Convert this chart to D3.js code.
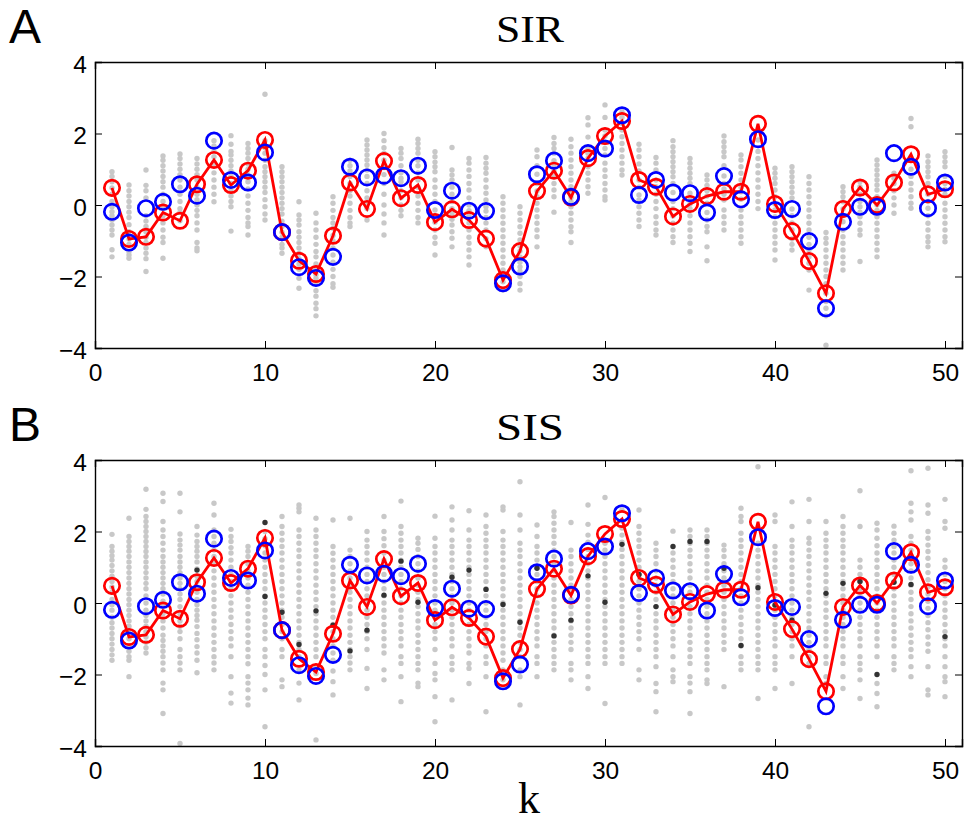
<!DOCTYPE html>
<html><head><meta charset="utf-8">
<script src="https://cdn.jsdelivr.net/npm/d3@7"></script>
<style>
body{margin:0;background:#fff;}
svg{display:block;}
.tick text{font-family:"Liberation Sans",Arial,sans-serif;font-size:24.5px;fill:#000;}
</style></head>
<body><svg id="chart" width="964" height="825"></svg>
<script>
const kValues = d3.range(1, 51);
const xTicks = [0, 10, 20, 30, 40, 50];
const yTicks = [-4, -2, 0, 2, 4];
const panelLabels = ["A", "B"];
const panelTitles = ["SIR", "SIS"];
const xLabel = "k";

const redVals = [0.48,-0.95,-0.89,-0.21,-0.44,0.58,1.26,0.56,0.96,1.82,
  -0.76,-1.56,-1.93,-0.86,0.63,-0.11,1.23,0.19,0.56,-0.48,
  -0.12,-0.42,-0.94,-2.10,-1.29,0.39,0.96,0.21,1.31,1.93,
  2.35,0.70,0.51,-0.32,0.03,0.25,0.37,0.37,2.27,0.03,
  -0.73,-1.57,-2.47,-0.11,0.49,0.0,0.63,1.42,0.30,0.44];
const blueVals = [-0.19,-1.05,-0.09,0.09,0.58,0.26,1.80,0.70,0.63,1.47,
  -0.76,-1.74,-2.04,-1.45,1.07,0.77,0.82,0.75,1.10,-0.14,
  0.40,-0.16,-0.17,-2.19,-1.72,0.86,1.24,0.23,1.45,1.58,
  2.51,0.28,0.70,0.35,0.33,-0.21,0.81,0.16,1.84,-0.14,
  -0.11,-1.01,-2.89,-0.47,-0.05,-0.05,1.45,1.07,-0.09,0.63];

const sirGrey = [
 [0.93,0.8,0.65,0.48,0.3,0.1,-0.05,-0.19,-0.3,-0.42,-0.56,-0.7,-0.84,-1.25,-1.45],
 [0.56,0.4,0.25,0.1,-0.05,-0.2,-0.35,-0.55,-0.75,-0.95,-1.1,-1.3,-1.4,-1.49],
 [0.98,0.55,0.4,0.2,-0.3,-0.45,-0.6,-0.75,-0.9,-1.05,-1.2,-1.35,-1.5,-1.86],
 [1.37,1.25,1.1,0.95,0.8,0.65,0.5,0.3,0.1,-0.1,-0.3,-0.5,-0.7,-0.9,-1.05,-1.49],
 [1.43,1.3,1.15,1.0,0.85,0.7,0.5,0.3,0.1,-0.1,-0.2,-0.44],
 [1.3,1.15,1.0,0.85,0.7,0.5,0.3,0.15,0.0,-0.15,-0.3,-0.5,-0.7,-1.05,-1.2,-1.28],
 [1.8,1.65,1.5,1.35,1.2,1.1,0.9,0.7,0.5,0.3,0.09],
 [1.94,1.7,1.5,1.4,1.25,1.1,0.95,0.8,0.6,0.4,0.25,0.1,-0.05,-0.73],
 [1.72,1.58,1.45,1.3,1.15,1.0,0.85,0.65,0.45,0.25,0.05,-0.15,-0.35,-0.5,-0.6,-0.84],
 [3.1,1.8,1.6,1.45,1.25,1.07,0.93,0.79,0.65,0.5,0.35,0.15,-0.05,-0.25,-0.42],
 [1.07,0.93,0.79,0.65,0.5,0.35,0.2,0.05,-0.1,-0.25,-0.45,-0.6,-0.76,-0.9,-1.1,-1.2,-1.35],
 [0.09,-0.28,-0.42,-0.56,-0.75,-0.9,-1.05,-1.2,-1.35,-1.5,-1.65,-1.8,-2.05,-2.33],
 [-0.23,-0.5,-0.7,-0.9,-1.1,-1.3,-1.45,-1.65,-1.8,-1.95,-2.05,-2.2,-2.4,-2.55,-2.75,-2.9,-3.1],
 [0.23,0.05,-0.15,-0.35,-0.5,-0.65,-0.85,-1.0,-1.2,-1.4,-1.6,-1.8,-2.0,-2.2,-2.3],
 [1.25,1.1,0.95,0.8,0.6,0.4,0.25,0.05,-0.15,-0.35,-0.5,-0.6],
 [1.82,1.68,1.54,1.4,1.26,1.12,0.98,0.8,0.6,0.4,0.2,0.05,-0.1,-0.42],
 [2.0,1.8,1.6,1.45,1.25,1.05,0.85,0.6,0.3,0.0,-0.25,-0.5,-0.84],
 [1.58,1.45,1.3,1.1,0.9,0.75,0.65,0.4,0.2,0.0,-0.15,-0.3],
 [1.84,1.72,1.58,1.45,1.25,1.1,0.9,0.7,0.5,0.25,0.05,-0.15,-0.35,-0.5],
 [1.49,1.35,1.2,1.07,0.93,0.7,0.5,0.3,0.1,-0.14,-0.3,-0.48,-0.7,-0.9,-1.07,-1.4],
 [1.61,0.98,0.84,0.7,0.5,0.3,0.1,-0.1,-0.25,-0.4,-0.56,-0.75,-0.93,-1.17],
 [1.3,1.17,0.98,0.8,0.6,0.42,0.2,0.0,-0.16,-0.3,-0.5,-0.7,-0.9,-1.07,-1.26,-1.45,-1.68],
 [1.33,1.17,1.03,0.89,0.7,0.5,0.33,0.14,-0.05,-0.17,-0.35,-0.5,-0.7,-0.94,-1.17],
 [0.23,0.05,-0.14,-0.33,-0.51,-0.7,-0.89,-1.07,-1.26,-1.45,-1.63,-1.82,-2.0,-2.15,-2.38],
 [-0.05,-0.23,-0.42,-0.61,-0.79,-0.98,-1.15,-1.29,-1.45,-1.6,-1.73,-1.85,-2.0,-2.2,-2.38],
 [1.54,1.35,1.1,0.86,0.6,0.39,0.23,0.05,-0.14,-0.33,-0.51,-0.7,-0.89,-1.17],
 [1.89,1.72,1.58,1.45,1.24,1.1,0.96,0.8,0.6,0.42,0.23,-0.2],
 [1.84,1.63,1.45,1.26,1.07,0.89,0.7,0.51,0.35,0.21,0.1,-0.05,-0.23,-0.42,-0.61,-0.75,-1.05],
 [2.44,2.24,1.9,1.6,1.45,1.31,1.07,0.89,0.7,0.51,0.33],
 [2.8,2.45,2.1,1.93,1.75,1.58,1.4,1.17,0.98,0.8,0.6,0.42,0.23,0.14],
 [2.6,2.45,2.28,2.1,1.91,1.72,1.54,1.35,1.17,0.98,0.84],
 [1.7,1.54,1.35,1.15,0.95,0.7,0.5,0.28,0.14,-0.05,-0.23,-0.42,-0.6],
 [1.33,1.17,0.98,0.7,0.51,0.3,0.1,-0.1,-0.33,-0.51,-0.7,-0.84],
 [1.8,1.63,1.49,1.35,1.21,1.07,0.93,0.79,0.6,0.35,0.1,-0.1,-0.31,-0.51,-0.7,-0.89,-1.05],
 [1.3,1.17,1.03,0.89,0.75,0.6,0.33,0.2,0.03,-0.1,-0.3,-0.5,-0.7,-0.89,-1.07,-1.3],
 [0.84,0.7,0.55,0.4,0.25,0.05,-0.21,-0.42,-0.6,-0.75,-1.17,-1.56],
 [1.93,1.77,1.63,1.49,1.35,1.1,0.81,0.6,0.45,0.3,0.14,-0.14,-0.33,-0.51,-0.7],
 [1.4,1.26,1.07,0.89,0.7,0.5,0.37,0.16,-0.14,-0.33,-0.51,-0.7,-0.89,-1.07],
 [1.82,1.5,1.3,1.1,0.9,0.7,0.5,0.3,0.1,-0.1],
 [1.03,0.89,0.75,0.6,0.42,0.23,0.03,-0.14,-0.33,-0.51,-0.7,-0.89,-1.07,-1.26,-1.54],
 [1.07,0.93,0.79,0.65,0.5,0.35,0.2,-0.11,-0.3,-0.5,-0.7,-0.95,-1.1,-1.26],
 [0.79,0.6,0.42,0.23,0.05,-0.14,-0.33,-0.51,-0.7,-0.9,-1.1,-1.26,-1.45,-1.63,-1.82,-2.38],
 [-0.77,-0.93,-1.07,-1.26,-1.45,-1.63,-1.82,-2.0,-2.2,-2.47,-2.7,-2.89,-3.1,-3.92],
 [0.51,0.37,0.23,0.09,-0.11,-0.3,-0.47,-0.7,-0.89,-1.07,-1.26,-1.45,-1.63,-1.82],
 [0.65,0.51,0.3,0.1,-0.05,-0.2,-0.33,-0.51,-0.7,-0.84,-1.58],
 [1.26,1.12,0.98,0.84,0.7,0.56,0.42,0.23,0.0,-0.15,-0.33,-0.51,-0.7,-0.89,-1.07,-1.26,-1.45],
 [0.89,0.75,0.6,0.4,0.2,0.0,-0.23],
 [2.42,2.19,1.0,0.8,0.6,0.42,0.23,0.05,-0.09],
 [1.37,1.21,1.07,0.93,0.79,0.6,0.3,0.1,-0.09,-0.3,-0.51,-0.7,-0.89,-1.03,-1.17],
 [1.49,1.35,1.21,1.07,0.8,0.6,0.44,0.3,0.05,-0.14,-0.33,-0.51,-0.7,-0.89,-1.03]
];

const sisGrey = [
 [1.92,1.58,1.45,1.32,1.2,1.05,0.9,0.75,0.6,0.45,0.3,0.1,-0.05,-0.2,-0.4,-0.55,-0.7,-0.85,-1.0,-1.15,-1.3,-1.45,-1.6],
 [2.37,1.86,1.72,1.58,1.45,1.3,1.15,1.0,0.85,0.7,0.55,0.4,0.25,0.1,-0.05,-0.2,-0.35,-0.5,-0.65,-0.8,-1.0,-1.2,-1.35,-1.5,-1.6,-2.06],
 [3.18,2.62,2.42,2.28,2.14,2.0,1.86,1.72,1.58,1.44,1.3,1.15,1.0,0.85,0.7,0.55,0.4,0.2,0.0,-0.2,-0.35,-0.5,-0.65,-0.8,-0.95,-1.1,-1.25,-1.4],
 [3.07,2.84,2.28,2.04,1.86,1.67,1.48,1.3,1.15,1.0,0.85,0.7,0.55,0.4,0.25,0.05,-0.1,-0.3,-0.5,-0.7,-0.9,-1.05,-1.2,-1.35,-1.5,-1.68,-1.87,-2.24,-2.43,-3.09],
 [3.07,2.55,1.93,1.76,1.62,1.48,1.3,1.15,1.0,0.85,0.7,0.55,0.4,0.25,0.1,-0.1,-0.3,-0.5,-0.65,-0.8,-1.0,-1.3,-1.5,-1.68,-1.87,-3.93],
 [2.14,1.9,1.72,1.58,1.45,1.3,1.15,0.95,0.75,0.6,0.45,0.3,0.1,-0.05,-0.2,-0.35,-0.48,-0.66,-0.85,-1.03,-1.22,-1.4,-1.6,-1.95],
 [2.79,2.46,2.04,1.86,1.67,1.48,1.3,1.1,0.9,0.7,0.5,0.3,0.1,-0.1,-0.3,-0.5,-0.7,-0.9,-1.1,-1.3,-1.5,-1.68,-1.87],
 [2.06,1.86,1.72,1.55,1.4,1.2,1.0,0.8,0.6,0.4,0.2,0.0,-0.2,-0.4,-0.6,-0.8,-1.0,-1.2,-1.5,-2.06,-2.52,-2.8],
 [1.58,1.45,1.3,1.1,0.9,0.7,0.5,0.3,0.1,-0.1,-0.3,-0.5,-0.7,-0.9,-1.1,-1.3,-1.5,-1.7,-2.06,-2.24,-2.43,-2.66,-2.85],
 [2.0,1.8,1.6,1.4,1.2,1.0,0.8,0.6,0.4,0.2,0.0,-0.2,-0.4,-0.6,-0.8,-1.0,-1.3,-1.5,-1.75,-2.0,-2.43,-3.46],
 [2.42,2.14,1.95,1.76,1.58,1.4,1.2,1.0,0.8,0.6,0.4,0.2,0.0,-0.2,-0.4,-0.6,-0.8,-1.0,-1.3,-1.5,-2.15,-2.34],
 [2.74,2.65,2.55,2.04,1.86,1.67,1.48,1.3,1.1,0.9,0.7,0.5,0.3,0.1,-0.1,-0.3,-0.5,-0.7,-0.9,-1.1,-1.3,-1.5,-1.87,-2.24,-2.71],
 [2.37,2.04,1.86,1.67,1.48,1.3,1.1,0.9,0.7,0.5,0.3,0.1,-0.1,-0.3,-0.5,-0.7,-0.9,-1.1,-1.3,-1.5,-1.78,-1.97,-3.83],
 [2.32,1.58,1.39,1.2,1.0,0.8,0.6,0.4,0.2,0.0,-0.2,-0.4,-0.6,-0.8,-1.0,-1.2,-1.4,-1.6,-1.9,-2.2,-2.57],
 [2.37,1.48,1.3,1.1,0.9,0.7,0.5,0.3,0.1,-0.1,-0.3,-0.5,-0.7,-0.9,-1.1,-1.3,-1.5,-1.68,-1.87],
 [2.0,1.76,1.58,1.4,1.2,1.0,0.8,0.6,0.4,0.2,0.0,-0.2,-0.4,-0.6,-0.8,-1.0,-1.3,-1.83,-2.39],
 [2.42,2.0,1.8,1.6,1.4,1.2,1.0,0.8,0.6,0.4,0.2,0.0,-0.2,-0.4,-0.6,-0.8,-1.0,-1.2,-1.4,-1.87,-2.15],
 [2.85,2.14,1.95,1.76,1.58,1.4,1.2,1.0,0.8,0.6,0.4,0.2,0.0,-0.2,-0.4,-0.6,-0.8,-1.0,-1.2,-1.5,-1.69,-2.06,-2.76],
 [1.81,1.67,1.5,1.3,1.1,0.9,0.7,0.5,0.3,0.1,-0.1,-0.3,-0.5,-0.7,-0.9,-1.1,-1.3,-1.5,-1.69,-1.87,-2.24,-2.34],
 [2.43,1.81,1.58,1.4,1.2,1.0,0.8,0.6,0.4,0.2,0.0,-0.2,-0.4,-0.6,-0.8,-1.0,-1.3,-1.69,-1.97,-2.15,-2.62,-3.32],
 [2.69,2.32,2.04,1.76,1.58,1.4,1.2,1.0,0.8,0.6,0.4,0.2,0.0,-0.2,-0.4,-0.6,-0.8,-1.0,-1.2,-1.5,-1.69,-1.87,-2.71],
 [2.58,2.04,1.76,1.58,1.4,1.2,1.0,0.8,0.6,0.4,0.2,0.0,-0.2,-0.4,-0.6,-0.8,-1.0,-1.2,-1.4,-1.69,-1.83,-2.25],
 [2.46,2.14,1.95,1.76,1.58,1.4,1.2,1.0,0.8,0.6,0.4,0.2,0.0,-0.2,-0.4,-0.6,-0.8,-1.0,-1.2,-1.5,-1.69,-2.06,-3.04],
 [2.69,2.6,2.0,1.76,1.58,1.4,1.2,1.0,0.8,0.6,0.4,0.2,0.0,-0.2,-0.4,-0.6,-0.8,-1.0,-1.2,-1.4,-1.6,-1.87,-2.15],
 [3.39,2.46,2.04,1.67,1.48,1.3,1.1,0.9,0.7,0.5,0.3,0.1,-0.1,-0.3,-0.5,-0.7,-0.9,-1.1,-1.3,-1.5,-1.87,-2.06,-2.85],
 [2.18,1.86,1.58,1.4,1.2,1.0,0.8,0.6,0.4,0.2,0.0,-0.2,-0.4,-0.6,-0.8,-1.0,-1.2,-1.5,-1.69,-2.06],
 [2.55,2.42,2.23,2.04,1.86,1.67,1.48,1.3,1.1,0.9,0.7,0.5,0.3,0.1,-0.1,-0.3,-0.5,-0.7,-0.9,-1.1,-1.3,-1.5,-1.69,-1.87],
 [2.25,1.48,1.3,1.1,0.9,0.7,0.5,0.3,0.1,-0.1,-0.3,-0.5,-0.7,-0.9,-1.1,-1.3,-1.69,-1.87,-2.15],
 [2.74,2.2,1.9,1.7,1.5,1.3,1.1,0.9,0.7,0.5,0.3,0.1,-0.1,-0.3,-0.5,-0.7,-0.9,-1.1,-1.3,-1.5,-1.69,-2.06,-2.39],
 [2.95,1.67,1.48,1.3,1.1,0.9,0.7,0.5,0.3,0.1,-0.1,-0.3,-0.5,-0.7,-0.9,-1.1,-1.3,-1.5,-1.69,-2.81],
 [2.6,2.3,2.1,1.9,1.7,1.5,1.3,1.1,0.9,0.7,0.5,0.3,0.1,-0.1,-0.3,-0.5,-0.7,-0.9,-1.1,-1.3,-1.5,-1.69],
 [2.6,2.14,1.95,1.76,1.58,1.4,1.2,1.0,0.8,0.6,0.4,0.2,0.0,-0.2,-0.4,-0.6,-0.8,-1.0,-1.3,-1.87,-2.15],
 [1.67,1.48,1.3,1.1,0.9,0.7,0.5,0.3,0.1,-0.1,-0.3,-0.5,-0.7,-0.9,-1.1,-1.3,-1.5,-1.78,-2.25,-2.48,-3.04],
 [2.01,1.4,1.2,1.0,0.8,0.6,0.4,0.2,0.0,-0.2,-0.4,-0.6,-0.8,-1.0,-1.2,-1.5,-1.87,-2.06,-2.2],
 [2.04,1.86,1.67,1.48,1.3,1.1,0.9,0.7,0.5,0.3,0.1,-0.1,-0.3,-0.5,-0.7,-0.9,-1.1,-1.3,-1.5,-1.69,-2.06,-2.24,-2.48,-3.09],
 [2.04,1.86,1.67,1.48,1.3,1.1,0.9,0.7,0.5,0.3,0.1,-0.1,-0.3,-0.5,-0.7,-0.9,-1.1,-1.3,-1.5,-1.69,-1.87,-2.15,-2.25],
 [1.62,1.48,1.3,1.1,0.9,0.7,0.5,0.3,0.1,-0.1,-0.3,-0.5,-0.7,-0.9,-1.1,-1.3,-2.34],
 [2.65,2.42,2.28,1.95,1.76,1.58,1.4,1.2,1.0,0.8,0.6,0.4,0.2,0.0,-0.2,-0.4,-0.6,-0.8,-1.0,-1.2,-1.5,-1.69,-1.87],
 [3.81,1.67,1.48,1.3,1.1,0.9,0.7,0.5,0.3,0.1,-0.1,-0.3,-0.5,-0.7,-0.9,-1.1,-1.3,-1.5,-1.69,-1.87,-2.67],
 [2.46,2.28,1.58,1.4,1.2,1.0,0.8,0.6,0.4,0.2,0.0,-0.2,-0.4,-0.6,-0.8,-1.0,-1.2,-1.5,-1.69,-1.87,-2.39],
 [2.83,2.14,1.76,1.58,1.4,1.2,1.0,0.8,0.6,0.4,0.2,0.0,-0.2,-0.4,-0.6,-0.8,-1.0,-1.2,-1.5,-2.25],
 [2.9,2.28,1.81,1.67,1.48,1.3,1.1,0.9,0.7,0.5,0.3,0.1,-0.1,-0.3,-0.5,-0.7,-0.9,-1.1,-1.3,-1.5,-1.69,-3.46],
 [2.28,1.95,1.76,1.58,1.4,1.2,1.0,0.8,0.6,0.4,0.2,0.0,-0.2,-0.4,-0.6,-0.8,-1.0,-1.2,-1.5,-1.69,-2.06,-2.25],
 [2.42,2.14,1.95,1.76,1.58,1.4,1.2,1.0,0.8,0.6,0.4,0.2,0.0,-0.2,-0.4,-0.6,-0.8,-1.0,-1.2,-1.5,-1.69,-2.06,-2.39],
 [3.14,2.14,1.2,1.0,0.8,0.6,0.4,0.2,0.0,-0.2,-0.4,-0.6,-0.8,-1.0,-1.2,-1.5,-1.69,-1.87,-2.15,-2.67],
 [2.23,2.04,1.81,1.6,1.4,1.2,1.0,0.8,0.6,0.4,0.2,0.0,-0.2,-0.4,-0.6,-0.8,-1.0,-1.2,-1.5,-2.25,-2.53,-2.9],
 [2.15,1.95,1.76,1.58,1.4,1.2,1.0,0.8,0.6,0.4,0.2,0.0,-0.2,-0.4,-0.6,-0.8,-1.0,-1.2,-1.5,-1.69,-1.87],
 [3.7,2.79,2.55,2.32,1.86,1.67,1.48,1.3,1.1,0.9,0.7,0.5,0.3,0.1,-0.1,-0.3,-0.5,-0.7,-0.9,-1.1,-1.3,-1.5,-1.78,-2.06],
 [3.77,2.74,2.51,2.0,1.81,1.62,1.44,1.25,1.05,0.85,0.65,0.45,0.25,0.05,-0.15,-0.35,-0.55,-0.75,-0.95,-1.15,-1.35,-1.78,-2.43,-2.57],
 [2.9,2.28,2.09,1.2,1.0,0.8,0.6,0.4,0.2,0.0,-0.2,-0.4,-0.6,-0.8,-1.0,-1.2,-1.5,-1.78,-2.06,-2.2,-2.62]
];

const sisDarkK = [6,10,10,11,12,13,14,15,16,17,18,19,21,22,23,24,25,26,27,28,29,30,31,32,33,34,35,36,37,38,39,40,41,43,44,45,46,47,48,50];
const sisDarkV = [0.92,2.25,0.18,-0.26,-1.16,-0.22,-0.62,-1.34,-0.76,0.22,1.17,0.02,0.72,0.92,0.38,-0.04,-0.54,0.97,-0.92,-0.48,0.76,0.02,1.64,0.8,-0.1,1.58,1.72,1.72,0.97,-1.19,0.43,-0.06,-0.48,0.27,0.55,0.6,-2.0,0.58,0.52,-0.94];

const svg = d3.select("#chart");
const x = d3.scaleLinear().domain([0, 51]).range([95, 962]);

const panels = [
  {top: 62, bottom: 348, grey: sirGrey, darkK: [], darkV: []},
  {top: 460, bottom: 746, grey: sisGrey, darkK: sisDarkK, darkV: sisDarkV}
];

panels.forEach((p, pi) => {
  const y = d3.scaleLinear().domain([-4, 4]).range([p.bottom, p.top]);
  const g = svg.append("g");

  const greyPts = [];
  p.grey.forEach((col, i) => col.forEach(v => greyPts.push([kValues[i], v])));
  g.append("g").selectAll("circle").data(greyPts).join("circle")
    .attr("cx", d => x(d[0])).attr("cy", d => y(d[1])).attr("r", 2.7)
    .attr("fill", "#c8c8c8");
  g.append("g").selectAll("circle").data(p.darkK.map((k, i) => [k, p.darkV[i]])).join("circle")
    .attr("cx", d => x(d[0])).attr("cy", d => y(d[1])).attr("r", 2.7)
    .attr("fill", "#333");

  const line = d3.line().x((d, i) => x(kValues[i])).y(d => y(d));
  g.append("path").datum(redVals).attr("d", line)
    .attr("fill", "none").attr("stroke", "#ff0000").attr("stroke-width", 2.8)
    .attr("stroke-linejoin", "miter");
  g.append("g").selectAll("circle").data(redVals).join("circle")
    .attr("cx", (d, i) => x(kValues[i])).attr("cy", d => y(d)).attr("r", 7.7)
    .attr("fill", "none").attr("stroke", "#ff0000").attr("stroke-width", 2.7);
  g.append("g").selectAll("circle").data(blueVals).join("circle")
    .attr("cx", (d, i) => x(kValues[i])).attr("cy", d => y(d)).attr("r", 7.7)
    .attr("fill", "none").attr("stroke", "#0000ff").attr("stroke-width", 2.7);

  const fmt = d3.format("d");
  const ax = svg.append("g");
  ax.append("g").attr("transform", `translate(0,${p.bottom})`)
    .call(d3.axisBottom(x).tickValues(xTicks).tickSize(-7).tickPadding(16).tickFormat(fmt));
  ax.append("g").attr("transform", `translate(0,${p.top})`)
    .call(d3.axisTop(x).tickValues(xTicks).tickSize(-7).tickFormat(""));
  const left = ax.append("g").attr("transform", `translate(${x(0)},0)`)
    .call(d3.axisLeft(y).tickValues(yTicks).tickSize(-7).tickPadding(8).tickFormat(fmt));
  left.selectAll(".tick text").attr("dy", "0.42em");
  ax.append("g").attr("transform", `translate(${x(51)},0)`)
    .call(d3.axisRight(y).tickValues(yTicks).tickSize(-7).tickFormat(""));
  ax.selectAll(".domain").attr("stroke", "#000").attr("stroke-width", 1.4);
  ax.selectAll(".tick line").attr("stroke", "#000").attr("stroke-width", 1);

  svg.append("text").attr("x", 9).attr("y", p.top - 19)
    .attr("font-family", "Liberation Sans, Arial, sans-serif").attr("font-size", 48)
    .text(panelLabels[pi]);
  svg.append("text").attr("x", 530).attr("y", p.top - 20)
    .attr("text-anchor", "middle")
    .attr("font-family", "Liberation Serif, Times New Roman, serif").attr("font-size", 38)
    .attr("textLength", 68).attr("lengthAdjust", "spacingAndGlyphs")
    .text(panelTitles[pi]);
});

svg.append("text").attr("x", 529).attr("y", 813)
  .attr("text-anchor", "middle")
  .attr("font-family", "Liberation Serif, Times New Roman, serif").attr("font-size", 44)
  .text(xLabel);
</script></body></html>
